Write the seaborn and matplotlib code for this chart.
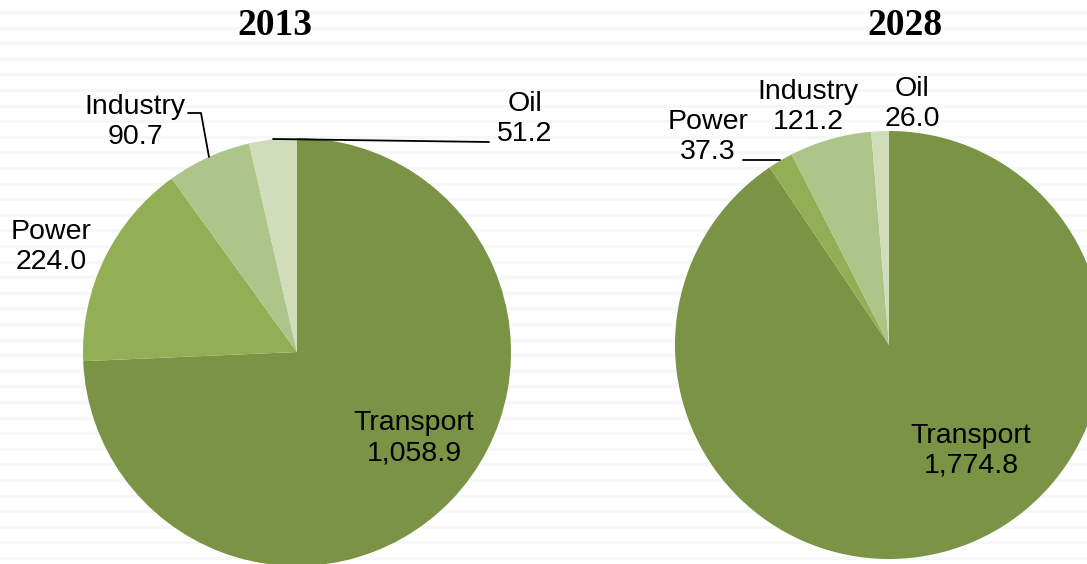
import numpy as np
import matplotlib
matplotlib.use("Agg")
import matplotlib.pyplot as plt
import seaborn as sns

# Data
sectors = ["Transport", "Power", "Industry", "Oil"]
values_2013 = [1058.9, 224.0, 90.7, 51.2]
values_2028 = [1774.8, 37.3, 121.2, 26.0]
years = ["2013", "2028"]
colors = ["#7A9344", "#93AF55", "#AEC58A", "#D0DDBA"]

sns.set_theme(style="white")
plt.rcParams['font.family'] = ['Liberation Sans', 'DejaVu Sans']

W, H = 1087, 564
R = 214
fig = plt.figure(figsize=(W / 100, H / 100), dpi=100)
fig.patch.set_facecolor("white")

# faint striped background
bg = fig.add_axes([0, 0, 1, 1], zorder=-1)
bg.set_xlim(0, W)
bg.set_ylim(H, 0)
for y in np.arange(12, H, 15.6):
    bg.axhline(y, color="#F6F7F7", lw=2.2)
bg.axis("off")

# pie centres in pixels, label offsets (dx, dy up) from centre
centres = [(297, 352), (889, 345)]
label_pos = [
    [(117, -86), (-246, 105), (-162, 230), (228, 233)],
    [(82, -106), (-181, 208), (-81, 238), (23, 241)],
]
leaders = [
    [[(-109, 239), (-96, 239), (-88, 195)], [(-24, 213), (192, 210)]],
    [[(-146, 185), (-109, 185)]],
]
title_x = [275, 905]

for i, vals in enumerate([values_2013, values_2028]):
    cx, cy = centres[i]
    ax = fig.add_axes([(cx - R) / W, (H - cy - R) / H, 2 * R / W, 2 * R / H])
    ax.pie(vals, colors=colors, startangle=90, counterclock=False,
           radius=R, wedgeprops=dict(linewidth=0))
    ax.set_xlim(-R, R)
    ax.set_ylim(-R, R)
    ax.set_aspect("equal")
    ax.axis("off")
    for name, v, (dx, dy) in zip(sectors, vals, label_pos[i]):
        ax.text(dx, dy, f"{name}\n{v:,.1f}", ha="center", va="center",
                fontsize=20.5, color="black", linespacing=1.2, clip_on=False)
    for pts in leaders[i]:
        xs, ys = zip(*pts)
        ax.plot(xs, ys, color="black", lw=1.3, clip_on=False)
    fig.text(title_x[i] / W, 1 - 35 / H, years[i], ha="center", va="baseline",
             fontsize=27, fontweight="bold", color="black",
             family=["Liberation Serif"])

fig.savefig("out.png", dpi=100)
